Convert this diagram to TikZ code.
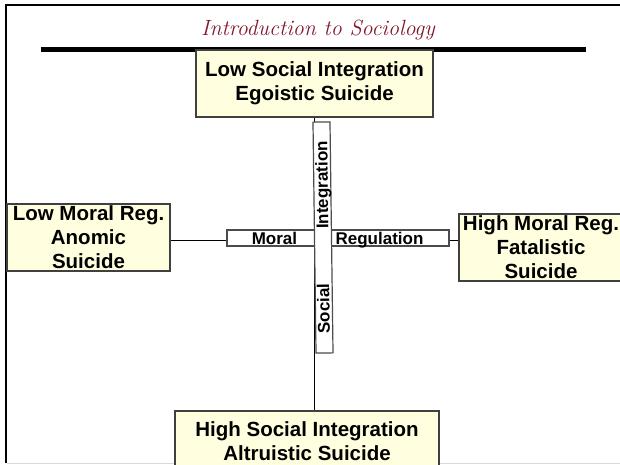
\documentclass[tikz,border=0pt]{standalone}
\usepackage{fontspec}
\newfontfamily\boxfont{Liberation Sans}

\tikzset{
  typebox/.style={draw=black!75, line width=1.1pt, fill=boxyellow, inner sep=0pt,
    align=center, font=\boxfont\bfseries\fontsize{20.5}{24}\selectfont},
  axisbar/.style={draw=black!70, line width=1.2pt, fill=white, inner sep=0pt},
  axislabel/.style={inner sep=0pt, anchor=base,
    font=\boxfont\bfseries\fontsize{17}{20}\selectfont},
}

\begin{document}
\begin{tikzpicture}[x=1pt,y=-1pt]
\definecolor{boxyellow}{RGB}{255,255,224}
\definecolor{titlered}{RGB}{130,22,45}
\useasboundingbox (0,0) rectangle (620,465);
% slide frame
\draw[line width=2.3pt] (6.2,463) -- (6.2,4.8) -- (620,4.8);
\draw[black!15, line width=1.5pt] (7,463.5) -- (620,463.5);
\node[font=\itshape\fontsize{22}{26}\selectfont, text=titlered] (title) at (318,30) {Introduction to Sociology};
\draw[line width=4.5pt] (41,49.5) -- (586,49.5);
\coordinate (vl) at (314.5,0);
\coordinate (hl) at (0,240.5);
\node[typebox, minimum width=237pt, minimum height=67pt] (egoistic) at (314.5,83.5) {Low Social Integration\\Egoistic Suicide};
\node[typebox, minimum width=163pt, minimum height=67pt] (anomic) at (88.5,237.5) {Low Moral Reg.\\Anomic\\Suicide};
\node[typebox, minimum width=164pt, minimum height=67pt] (fatalistic) at (541,247.5) {High Moral Reg.\\Fatalistic\\Suicide};
\node[typebox, minimum width=264pt, minimum height=60pt] (altruistic) at (307,441) {High Social Integration\\Altruistic Suicide};
\draw[line width=1pt] (egoistic.south -| vl) -- (altruistic.north -| vl);
\node[axisbar, minimum width=222pt, minimum height=16pt] (moralbar) at (338,238) {};
\draw[line width=1pt] (anomic.east |- hl) -- (moralbar.west |- hl);
\draw[line width=1pt] (moralbar.east |- hl) -- (fatalistic.west |- hl);
\node[axisbar, minimum width=231pt, minimum height=17pt, rotate=90.75] (socialbar) at (323,237.5) {};
% axis texts
\node[axislabel] (moral) at (274.5,244) {Moral};
\node[axislabel] (regulation) at (379.5,244) {Regulation};
\node[axislabel, rotate=90.75] (integration) at (327.8,185) {Integration};
\node[axislabel, rotate=90.75] (social) at (329.5,308.5) {Social};
\end{tikzpicture}
\end{document}
